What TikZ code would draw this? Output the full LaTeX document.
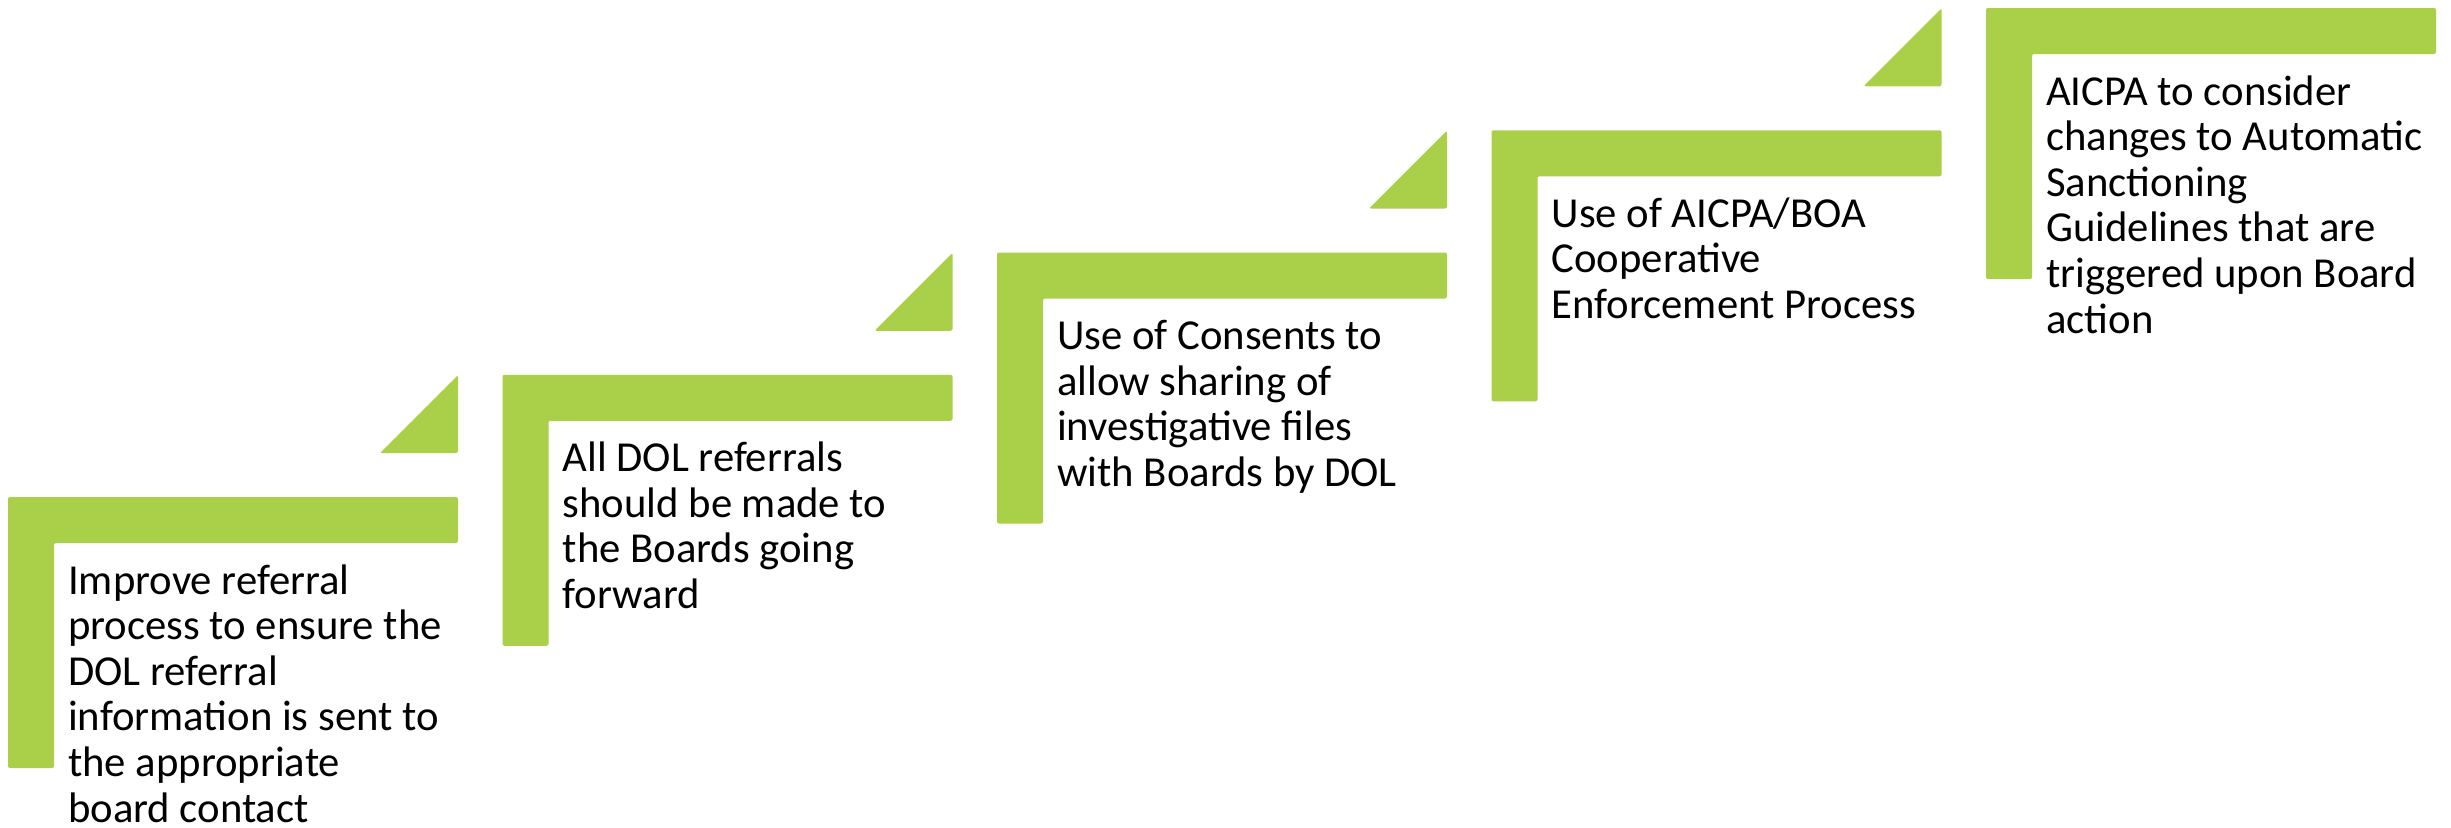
\documentclass[tikz,border=0pt]{standalone}
\usepackage{fontspec}
\setmainfont{Carlito}
\definecolor{stepgreen}{RGB}{169,208,72}
\tikzset{
  stairfill/.style={fill=stepgreen, draw=none, rounded corners=2pt},
  steptext/.style={anchor=base west, align=left, inner sep=0pt, text=black,
    font=\fontsize{42.7}{45.6}\selectfont},
}
\begin{document}
\begin{tikzpicture}[x=1pt,y=-1pt]
  \useasboundingbox (0,0) rectangle (2451,827);
  % five rising steps: L-shaped bracket, text inside, wedge above the right end
  % (\n = number of text lines; the node's base is its last line)
  \foreach \i/\n/\txt in {
    0/6/{Improve referral\\process to ensure the\\DOL referral\\information is sent to\\the appropriate\\board contact},
    1/4/{All DOL referrals\\should be made to\\the Boards going\\forward},
    2/4/{Use of Consents to\\allow sharing of\\investigative files\\with Boards by DOL},
    3/3/{Use of AICPA/BOA\\Cooperative\\Enforcement Process},
    4/6/{AICPA to consider\\changes to Automatic\\Sanctioning\\Guidelines that are\\triggered upon Board\\action}} {
    \pgfmathsetmacro{\x}{8+494.5*\i}
    \pgfmathsetmacro{\y}{497-122.25*\i}
    \fill[stairfill] (\x,\y) -- ++(450,0) -- ++(0,46) -- ++(-404,0) -- ++(0,225) -- ++(-46,0) -- cycle;
    \ifnum\i<4
      \fill[stairfill] (\x+450,\y-122) -- (\x+450,\y-44) -- (\x+372,\y-44) -- cycle;
    \fi
    \node[steptext] (t\i) at (\x+60,\y+97+45.6*\n-45.6) {\txt};
  }
\end{tikzpicture}
\end{document}
